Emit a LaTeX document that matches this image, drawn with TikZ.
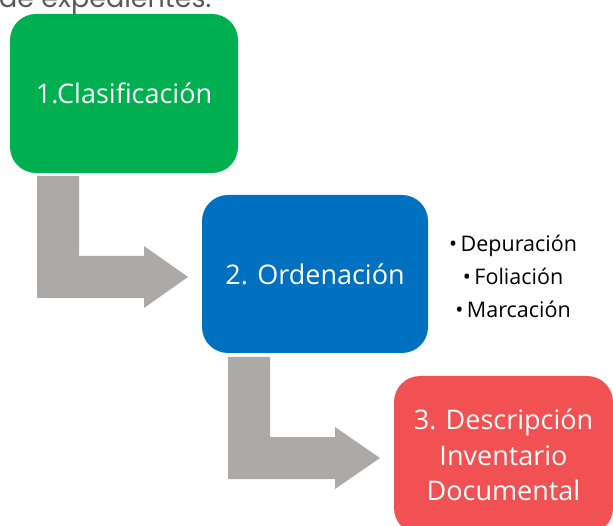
\documentclass[tikz,border=0pt]{standalone}
\usepackage{fontspec}
\setmainfont{Open Sans}
\newfontfamily\titlefont{Poppins}
\definecolor{cgreen}{HTML}{00B050}
\definecolor{cblue}{HTML}{0070C0}
\definecolor{cred}{HTML}{F15152}
\definecolor{cgray}{HTML}{ADA9A6}
\definecolor{ctitle}{HTML}{595959}
\tikzset{
  stagebox/.style={rounded corners=26pt, inner sep=0pt, text=white, align=center,
    font=\fontsize{27}{35.5}\selectfont},
  bentarrow/.style={fill=cgray, draw=none},
  bullettext/.style={inner sep=0pt, align=center, text=black, font=\fontsize{21.5}{33}\selectfont},
}
\begin{document}
\begin{tikzpicture}[x=1pt,y=-1pt]
\useasboundingbox (0,0) rectangle (613,526);
\clip (0,0) rectangle (613,526);
\node[anchor=base west, inner sep=0pt, text=ctitle, font=\titlefont\fontsize{27}{34}\selectfont] (title) at (-1,8) {de expedientes.};
% stages
\node[stagebox, fill=cgreen, minimum width=228pt, minimum height=159pt] (s1) at (124,93.5) {1.Clasificación};
\node[stagebox, fill=cblue, minimum width=226pt, minimum height=158pt] (s2) at (315,274) {2. Ordenación};
\node[stagebox, fill=cred, minimum width=219pt, minimum height=158pt] (s3) at (503.5,455) {3. Descripción\\Inventario\\Documental};
% bent arrows
\fill[bentarrow] (37,176) -- (79,176) -- (79,256) -- (144,256) -- (144,246) -- (188,277) -- (144,308) -- (144,298) -- (37,298) -- cycle;
\fill[bentarrow] (228,357) -- (270,357) -- (270,437) -- (335,437) -- (335,427) -- (380,458) -- (335,489) -- (335,479) -- (228,479) -- cycle;
% bullets
\node[bullettext] (b) at (513,276) {•\,Depuración\\•\,Foliación\\•\,Marcación};
\end{tikzpicture}
\end{document}
